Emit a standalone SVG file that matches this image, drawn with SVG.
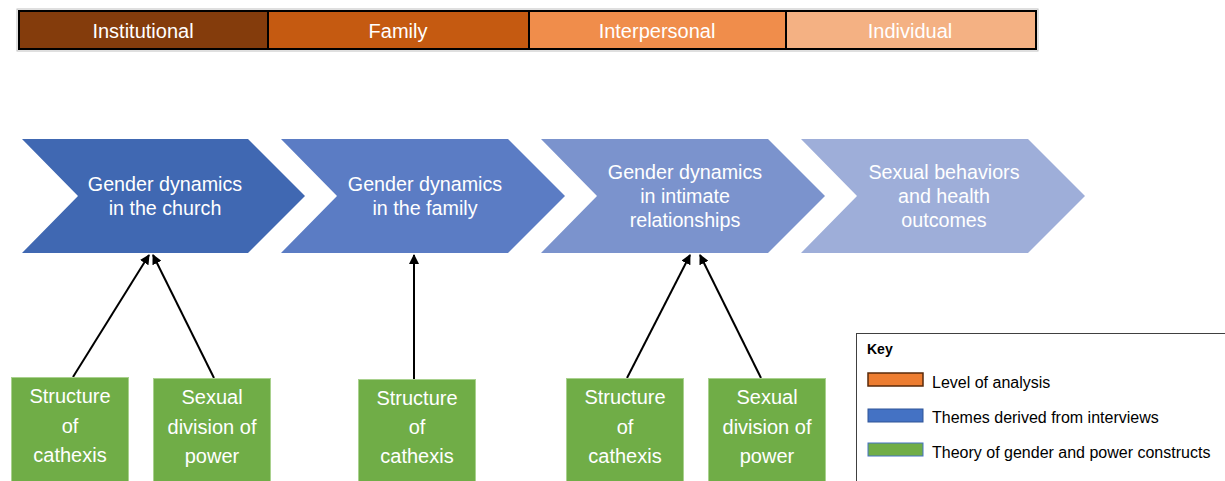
<svg xmlns="http://www.w3.org/2000/svg" width="1225" height="481" viewBox="0 0 1225 481">
<style>
  text { font-family: "Liberation Sans", Arial, sans-serif; fill: #ffffff; text-anchor: middle; }
  .lvl { font-size: 20px; }
  .chev { font-size: 19.7px; }
  .theory { font-size: 20px; }
  .box { fill: #70AD47; stroke: #A9D18E; stroke-width: 1; }
  .conn { stroke: #000000; stroke-width: 2; fill: none; marker-end: url(#arrow); }
  .key { font-size: 16px; fill: #000000; text-anchor: start; }
</style>
<defs>
  <marker id="arrow" viewBox="0 0 10 10" refX="9" refY="5" markerWidth="5" markerHeight="5" orient="auto" markerUnits="strokeWidth">
    <path d="M0,0 L10,5 L0,10 z" fill="#000000"/>
  </marker>
</defs>
<rect width="1225" height="481" fill="#ffffff"/>

<g id="levels">
  <rect x="17" y="9" width="1021" height="42" fill="none" stroke="#BFBFBF" stroke-width="1"/>
  <g id="level-institutional">
    <rect x="19" y="11" width="249" height="38" fill="#843C0C" stroke="#000" stroke-width="2"/>
    <text class="lvl" x="143" y="38">Institutional</text>
  </g>
  <g id="level-family">
    <rect x="268" y="11" width="261" height="38" fill="#C55A11" stroke="#000" stroke-width="2"/>
    <text class="lvl" x="398" y="38">Family</text>
  </g>
  <g id="level-interpersonal">
    <rect x="529" y="11" width="257" height="38" fill="#F08D4B" stroke="#000" stroke-width="2"/>
    <text class="lvl" x="657" y="38">Interpersonal</text>
  </g>
  <g id="level-individual">
    <rect x="786" y="11" width="250" height="38" fill="#F4B183" stroke="#000" stroke-width="2"/>
    <text class="lvl" x="910" y="38">Individual</text>
  </g>
</g>

<g id="chevron-church">
  <polygon points="22,139 248,139 305,196 248,253 22,253 78,196" fill="#4068B2"/>
  <text class="chev" x="165" y="191">Gender dynamics</text>
  <text class="chev" x="165" y="215">in the church</text>
</g>
<g id="chevron-family">
  <polygon points="281,139 508,139 565,196 508,253 281,253 337,196" fill="#5B7CC4"/>
  <text class="chev" x="425" y="191">Gender dynamics</text>
  <text class="chev" x="425" y="215">in the family</text>
</g>
<g id="chevron-intimate">
  <polygon points="541,139 768,139 825,196 768,253 541,253 597,196" fill="#7B93CD"/>
  <text class="chev" x="685" y="179">Gender dynamics</text>
  <text class="chev" x="685" y="203">in intimate</text>
  <text class="chev" x="685" y="227">relationships</text>
</g>
<g id="chevron-outcomes">
  <polygon points="801,139 1028,139 1085,196 1028,253 801,253 857,196" fill="#9EAED9"/>
  <text class="chev" x="944" y="179">Sexual behaviors</text>
  <text class="chev" x="944" y="203">and health</text>
  <text class="chev" x="944" y="227">outcomes</text>
</g>

<g id="connectors">
  <line class="conn" x1="73" y1="377" x2="149" y2="255"/>
  <line class="conn" x1="214" y1="378" x2="153" y2="255"/>
  <line class="conn" x1="414" y1="379" x2="414" y2="255"/>
  <line class="conn" x1="627" y1="378" x2="690" y2="255"/>
  <line class="conn" x1="761" y1="378" x2="700" y2="255"/>
</g>

<g id="theory-cathexis-1">
  <rect class="box" x="11.5" y="377.5" width="117" height="110"/>
  <text class="theory" x="70" y="403">Structure</text>
  <text class="theory" x="70" y="433">of</text>
  <text class="theory" x="70" y="462">cathexis</text>
</g>
<g id="theory-power-1">
  <rect class="box" x="153.5" y="378.5" width="117" height="110"/>
  <text class="theory" x="212" y="404">Sexual</text>
  <text class="theory" x="212" y="434">division of</text>
  <text class="theory" x="212" y="463">power</text>
</g>
<g id="theory-cathexis-2">
  <rect class="box" x="358.5" y="379.5" width="117" height="110"/>
  <text class="theory" x="417" y="405">Structure</text>
  <text class="theory" x="417" y="434">of</text>
  <text class="theory" x="417" y="463">cathexis</text>
</g>
<g id="theory-cathexis-3">
  <rect class="box" x="566.5" y="378.5" width="117" height="110"/>
  <text class="theory" x="625" y="404">Structure</text>
  <text class="theory" x="625" y="434">of</text>
  <text class="theory" x="625" y="463">cathexis</text>
</g>
<g id="theory-power-2">
  <rect class="box" x="708.5" y="378.5" width="117" height="110"/>
  <text class="theory" x="767" y="404">Sexual</text>
  <text class="theory" x="767" y="434">division of</text>
  <text class="theory" x="767" y="463">power</text>
</g>

<g id="key">
  <rect x="856.5" y="333.5" width="380" height="160" fill="#ffffff" stroke="#404040" stroke-width="1"/>
  <text x="867" y="354" style="font-size:14px;font-weight:bold;fill:#000;text-anchor:start;">Key</text>
  <rect x="868" y="373" width="55" height="13" fill="#ED7D31" stroke="#5A2A0A" stroke-width="1.5"/>
  <text class="key" x="932" y="388">Level of analysis</text>
  <rect x="868" y="409" width="55" height="13" fill="#4472C4" stroke="#2F5597" stroke-width="1"/>
  <text class="key" x="932" y="423">Themes derived from interviews</text>
  <rect x="868" y="443" width="55" height="13" fill="#70AD47" stroke="#4472C4" stroke-width="1"/>
  <text class="key" x="932" y="458">Theory of gender and power constructs</text>
</g>
</svg>
